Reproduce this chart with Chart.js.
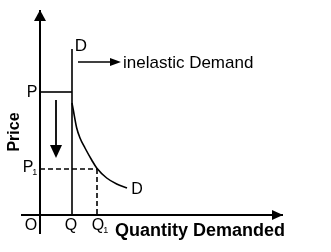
<!DOCTYPE html>
<html>
<head>
<meta charset="utf-8">
<script src="https://cdn.jsdelivr.net/npm/chart.js@4"></script>
<style>
  html, body { margin: 0; padding: 0; background: #fff; }
  #wrap { width: 331px; height: 252px; }
</style>
</head>
<body>
<div id="wrap"><canvas id="chart" width="331" height="252"></canvas></div>
<script>
// diagram values, origin O = (0, 0)
const priceP = 123;
const priceP1 = 46;
const qtyQ = 32;
const qtyQ1 = 57;

const yAxisLine = [{ x: 0, y: -19 }, { x: 0, y: 205 }];
const xAxisLine = [{ x: -19, y: 0 }, { x: 243, y: 0 }];
const verticalD = [{ x: qtyQ, y: 166 }, { x: qtyQ, y: 0 }];
const curveD = [
  { x: 32, y: 112 }, { x: 33.3, y: 105 }, { x: 36.7, y: 87 }, { x: 40, y: 77 },
  { x: 45, y: 67 }, { x: 51.7, y: 55 }, { x: 56.7, y: 47 }, { x: 66.7, y: 37 },
  { x: 76.7, y: 31 }, { x: 87, y: 27 }
];
const lineP = [{ x: 0, y: priceP }, { x: qtyQ, y: priceP }];
const lineP1 = [{ x: 0, y: priceP1 }, { x: qtyQ1, y: priceP1 }];
const lineQ1 = [{ x: qtyQ1, y: priceP1 }, { x: qtyQ1, y: 0 }];
const fallArrow = [{ x: 16, y: 115 }, { x: 16, y: 62 }];
const inelasticArrow = [{ x: 38, y: 153 }, { x: 76, y: 153 }];

// arrow heads: tip and the point it comes from
const arrowHeads = [
  { tip: { x: 0, y: 205 }, from: { x: 0, y: 100 }, len: 11, half: 6 },
  { tip: { x: 243, y: 0 }, from: { x: 100, y: 0 }, len: 11, half: 5 },
  { tip: { x: 16, y: 57 }, from: { x: 16, y: 115 }, len: 13, half: 6 },
  { tip: { x: 81, y: 153 }, from: { x: 38, y: 153 }, len: 11, half: 4 }
];

const labels = [
  { text: 'D', x: 41, y: 170, size: 17 },
  { text: 'inelastic Demand', x: 83, y: 153, size: 17, align: 'left' },
  { text: 'P', x: -8, y: 123, size: 16 },
  { text: 'P', sub: '1', x: -12, y: 48, size: 16 },
  { text: 'O', x: -9, y: -10, size: 16 },
  { text: 'Q', x: 31, y: -10, size: 16 },
  { text: 'Q', sub: '1', x: 58, y: -10, size: 16 },
  { text: 'D', x: 97, y: 26, size: 16 },
  { text: 'Price', x: -26, y: 83, size: 16, bold: true, rotate: true },
  { text: 'Quantity Demanded', x: 75, y: -15, size: 18, bold: true, align: 'left' }
];

function seg(data, width, dash) {
  return {
    data: data, showLine: true, pointRadius: 0, borderColor: '#000',
    borderWidth: width, borderDash: dash || [], fill: false, tension: 0
  };
}

const overlay = {
  id: 'overlay',
  afterDatasetsDraw(chart) {
    const ctx = chart.ctx;
    const sx = chart.scales.x, sy = chart.scales.y;
    ctx.save();
    ctx.fillStyle = '#000';
    arrowHeads.forEach(a => {
      const tx = sx.getPixelForValue(a.tip.x), ty = sy.getPixelForValue(a.tip.y);
      const fx = sx.getPixelForValue(a.from.x), fy = sy.getPixelForValue(a.from.y);
      const ang = Math.atan2(ty - fy, tx - fx);
      ctx.save();
      ctx.translate(tx, ty);
      ctx.rotate(ang);
      ctx.beginPath();
      ctx.moveTo(0, 0);
      ctx.lineTo(-a.len, -a.half);
      ctx.lineTo(-a.len, a.half);
      ctx.closePath();
      ctx.fill();
      ctx.restore();
    });
    const fam = '"Liberation Sans", Arial, sans-serif';
    labels.forEach(l => {
      const px = sx.getPixelForValue(l.x), py = sy.getPixelForValue(l.y);
      ctx.save();
      ctx.translate(px, py);
      if (l.rotate) ctx.rotate(-Math.PI / 2);
      ctx.font = (l.bold ? 'bold ' : '') + l.size + 'px ' + fam;
      ctx.textAlign = l.align || 'center';
      ctx.textBaseline = 'middle';
      ctx.fillText(l.text, 0, 1);
      if (l.sub) {
        const w = ctx.measureText(l.text).width;
        ctx.font = Math.round(l.size * 0.55) + 'px ' + fam;
        ctx.textAlign = 'left';
        ctx.fillText(l.sub, w / 2 - 1, 6);
      }
      ctx.restore();
    });
    ctx.restore();
  }
};

new Chart(document.getElementById('chart').getContext('2d'), {
  type: 'scatter',
  data: {
    datasets: [
      seg(yAxisLine, 2),
      seg(xAxisLine, 2),
      seg(verticalD, 1.6),
      Object.assign(seg(curveD, 1.6), { cubicInterpolationMode: 'monotone' }),
      seg(lineP, 1.6),
      seg(lineP1, 1.6, [5, 3]),
      seg(lineQ1, 1.6, [5, 3]),
      seg(fallArrow, 1.8),
      seg(inelasticArrow, 1.4)
    ]
  },
  options: {
    responsive: false,
    animation: false,
    layout: { padding: 0 },
    plugins: { legend: { display: false }, tooltip: { enabled: false } },
    scales: {
      x: { type: 'linear', display: false, min: -40, max: 291 },
      y: { type: 'linear', display: false, min: -37, max: 215 }
    }
  },
  plugins: [overlay]
});
</script>
</body>
</html>
